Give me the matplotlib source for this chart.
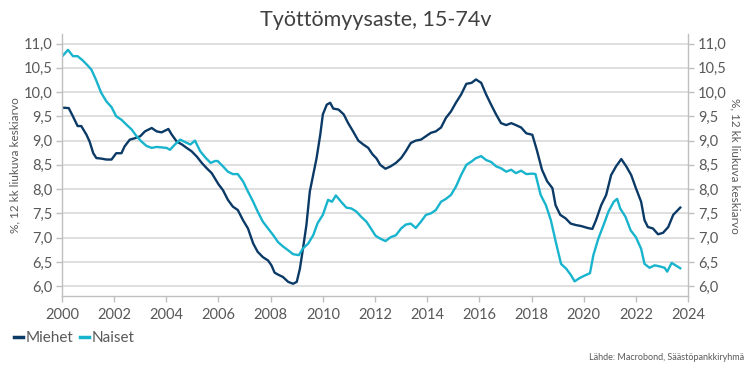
import matplotlib
matplotlib.use("Agg")
import matplotlib.pyplot as plt
import matplotlib.ticker as mticker
from matplotlib.lines import Line2D

# data (decimal year, % 12 month moving average)
miehet_t = [2000.0, 2000.26, 2000.42, 2000.6, 2000.74, 2000.94, 2001.06, 2001.2, 2001.32, 2001.5,
            2001.7, 2001.9, 2002.08, 2002.28, 2002.4, 2002.6, 2002.8, 2003.0, 2003.18, 2003.44,
            2003.63, 2003.82, 2004.08, 2004.2, 2004.4, 2004.6, 2004.78, 2004.97, 2005.17, 2005.36,
            2005.55, 2005.74, 2006.0, 2006.17, 2006.36, 2006.55, 2006.74, 2006.94, 2007.13, 2007.33,
            2007.5, 2007.7, 2007.9, 2008.03, 2008.15, 2008.28, 2008.47, 2008.67, 2008.86, 2009.0,
            2009.12, 2009.24, 2009.37, 2009.5, 2009.63, 2009.76, 2009.9, 2010.0, 2010.15, 2010.28,
            2010.4, 2010.6, 2010.8, 2010.97, 2011.17, 2011.36, 2011.55, 2011.74, 2011.9, 2012.06,
            2012.2, 2012.4, 2012.6, 2012.8, 2013.0, 2013.18, 2013.37, 2013.56, 2013.76, 2013.95,
            2014.14, 2014.33, 2014.53, 2014.72, 2014.91, 2015.1, 2015.3, 2015.5, 2015.7, 2015.87,
            2016.07, 2016.26, 2016.45, 2016.64, 2016.83, 2017.03, 2017.22, 2017.4, 2017.6, 2017.8,
            2018.03, 2018.2, 2018.4, 2018.6, 2018.8, 2018.92, 2019.1, 2019.3, 2019.5, 2019.7,
            2019.9, 2020.15, 2020.33, 2020.47, 2020.67, 2020.86, 2021.05, 2021.24, 2021.44, 2021.63,
            2021.82, 2022.0, 2022.2, 2022.33, 2022.46, 2022.65, 2022.85, 2023.04, 2023.24, 2023.43,
            2023.7]
miehet = [9.68, 9.67, 9.5, 9.3, 9.3, 9.12, 8.98, 8.74, 8.64, 8.63,
          8.61, 8.61, 8.74, 8.74, 8.88, 9.02, 9.05, 9.09, 9.19, 9.26,
          9.19, 9.17, 9.24, 9.13, 8.98, 8.92, 8.85, 8.78, 8.67, 8.54,
          8.43, 8.33, 8.1, 7.98, 7.78, 7.64, 7.57, 7.36, 7.19, 6.88,
          6.71, 6.6, 6.53, 6.43, 6.28, 6.24, 6.19, 6.09, 6.05, 6.09,
          6.36, 6.78, 7.26, 7.95, 8.29, 8.64, 9.12, 9.54, 9.74, 9.78,
          9.66, 9.64, 9.54, 9.36, 9.18, 9.0, 8.92, 8.85, 8.72, 8.63,
          8.5, 8.42, 8.47, 8.54, 8.64, 8.78, 8.95, 9.0, 9.02, 9.09,
          9.16, 9.19, 9.27, 9.47, 9.6, 9.78, 9.95, 10.17, 10.19, 10.26,
          10.19, 9.95, 9.74, 9.54, 9.36, 9.32, 9.36, 9.32, 9.27, 9.15,
          9.12, 8.81, 8.4, 8.16, 8.02, 7.67, 7.47, 7.4, 7.29, 7.26,
          7.24, 7.2, 7.18, 7.36, 7.67, 7.88, 8.29, 8.47, 8.62, 8.47,
          8.29, 8.02, 7.74, 7.36, 7.22, 7.19, 7.07, 7.1, 7.22, 7.47,
          7.62]

naiset_t = [2000.0, 2000.23, 2000.42, 2000.6, 2000.8, 2001.0, 2001.13, 2001.3, 2001.5, 2001.7,
            2001.9, 2002.08, 2002.28, 2002.47, 2002.67, 2002.86, 2003.05, 2003.24, 2003.44, 2003.63,
            2003.82, 2004.01, 2004.14, 2004.33, 2004.53, 2004.72, 2004.92, 2005.1, 2005.3, 2005.5,
            2005.7, 2005.87, 2005.97, 2006.17, 2006.36, 2006.55, 2006.74, 2006.94, 2007.13, 2007.33,
            2007.5, 2007.7, 2007.9, 2008.1, 2008.28, 2008.47, 2008.67, 2008.86, 2009.08, 2009.24,
            2009.44, 2009.63, 2009.8, 2010.0, 2010.2, 2010.35, 2010.5, 2010.7, 2010.9, 2011.1,
            2011.28, 2011.47, 2011.67, 2011.83, 2012.02, 2012.2, 2012.4, 2012.6, 2012.8, 2013.0,
            2013.18, 2013.37, 2013.56, 2013.76, 2013.95, 2014.14, 2014.33, 2014.53, 2014.72, 2014.91,
            2015.1, 2015.3, 2015.5, 2015.7, 2015.87, 2016.07, 2016.26, 2016.45, 2016.64, 2016.83,
            2017.03, 2017.22, 2017.4, 2017.6, 2017.8, 2018.03, 2018.15, 2018.35, 2018.55, 2018.74,
            2018.93, 2019.13, 2019.33, 2019.52, 2019.65, 2019.85, 2020.04, 2020.24, 2020.37, 2020.56,
            2020.76, 2020.95, 2021.15, 2021.28, 2021.4, 2021.6, 2021.8, 2022.0, 2022.2, 2022.33,
            2022.52, 2022.72, 2022.9, 2023.1, 2023.2, 2023.37, 2023.7]
naiset = [10.73, 10.87, 10.74, 10.74, 10.65, 10.54, 10.46, 10.26, 9.99, 9.81,
          9.69, 9.5, 9.43, 9.33, 9.23, 9.09, 8.98, 8.89, 8.85, 8.87,
          8.86, 8.85, 8.81, 8.92, 9.02, 8.97, 8.92, 9.0, 8.78, 8.65,
          8.54, 8.58, 8.58, 8.47, 8.36, 8.31, 8.31, 8.16, 7.95, 7.74,
          7.54, 7.33, 7.19, 7.05, 6.91, 6.82, 6.74, 6.66, 6.64, 6.78,
          6.88, 7.05, 7.3, 7.47, 7.78, 7.74, 7.87, 7.74, 7.62, 7.6,
          7.54, 7.43, 7.33, 7.2, 7.04, 6.98, 6.93, 7.01, 7.05, 7.19,
          7.27, 7.29, 7.2, 7.33, 7.47, 7.5, 7.57, 7.74, 7.8, 7.88,
          8.05, 8.29, 8.5, 8.57, 8.64, 8.68, 8.6, 8.56, 8.47, 8.43,
          8.36, 8.4, 8.33, 8.38, 8.31, 8.32, 8.31, 7.88, 7.67, 7.36,
          6.91, 6.46, 6.36, 6.22, 6.1, 6.17, 6.22, 6.27, 6.64, 6.98,
          7.26, 7.54, 7.74, 7.8, 7.6, 7.43, 7.15, 7.01, 6.77, 6.46,
          6.38, 6.43, 6.41, 6.38, 6.3, 6.48, 6.37]

year_ticks = list(range(2000, 2025, 2))
value_ticks = [6.0, 6.5, 7.0, 7.5, 8.0, 8.5, 9.0, 9.5, 10.0, 10.5, 11.0]
ylab = "%, 12 kk liukuva keskiarvo"

navy = "#0b3a66"
cyan = "#18b4cd"
txt = "#595959"
grid = "#d9d9d9"
spine = "#bfbfbf"

plt.rcParams['font.family'] = ['Lato', 'DejaVu Sans']

fig = plt.figure(figsize=(7.52, 3.76), dpi=100)
ax = fig.add_axes([0.0824, 0.213, 0.8326, 0.697])

ax.plot(miehet_t, miehet, color=navy, lw=1.7, solid_joinstyle='round')
ax.plot(naiset_t, naiset, color=cyan, lw=1.7, solid_joinstyle='round')

ax.set_xlim(2000, 2024)
ax.set_ylim(5.8, 11.2)
ax.set_xticks(year_ticks)
ax.set_yticks(value_ticks)
fmt = mticker.FuncFormatter(lambda v, p: f"{v:.1f}".replace(".", ","))
ax.yaxis.set_major_formatter(fmt)
ax.grid(axis='y', color=grid, lw=1.2)
ax.set_axisbelow(True)

ax.spines['top'].set_visible(False)
for s in ['left', 'right', 'bottom']:
    ax.spines[s].set_color(spine)
    ax.spines[s].set_linewidth(1.0)

ax.tick_params(axis='both', colors=spine, labelcolor=txt, labelsize=10.5, length=4, width=1)
ax.tick_params(axis='y', right=True, labelright=True, pad=3)
ax.tick_params(axis='x', pad=5)

# axis titles on both sides
fig.text(15 / 752, 0.56, ylab, rotation=90, ha='center', va='center', fontsize=8.5, color=txt)
fig.text(735 / 752, 0.56, ylab, rotation=-90, ha='center', va='center', fontsize=8.5, color=txt)

fig.text(0.5, 0.947, "Työttömyysaste, 15-74v", ha='center', va='center', fontsize=15.5, color="#404040")

handles = [Line2D([], [], color=navy, lw=2.5), Line2D([], [], color=cyan, lw=2.5)]
fig.legend(handles, ["Miehet", "Naiset"], loc='center left', bbox_to_anchor=(0.0, 0.1),
           frameon=False, ncol=2, fontsize=11, handlelength=0.6, handletextpad=0.2,
           columnspacing=0.4, labelcolor=txt)

fig.text(0.99, 0.05, "Lähde: Macrobond, Säästöpankkiryhmä", ha='right', va='center',
         fontsize=6.5, color=txt)

fig.savefig("out.png", dpi=100)
